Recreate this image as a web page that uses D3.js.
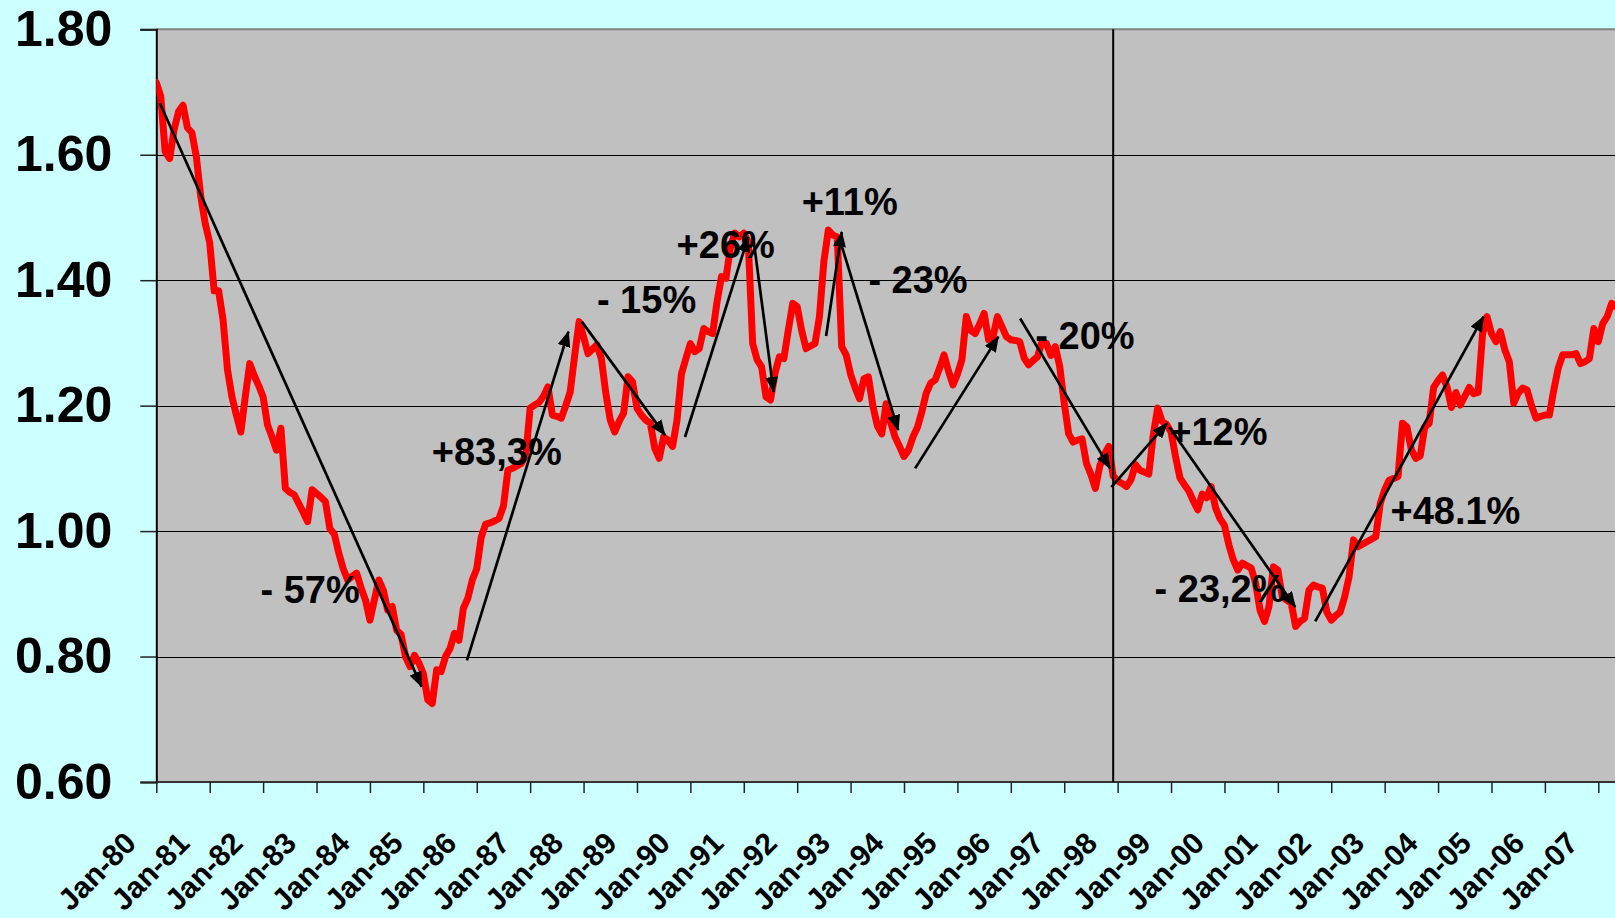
<!DOCTYPE html>
<html>
<head>
<meta charset="utf-8">
<script src="https://cdn.jsdelivr.net/npm/d3@7"></script>
<style>
  html, body { margin: 0; padding: 0; background: #CCFFFF; overflow: hidden; }
  svg { display: block; }
</style>
</head>
<body>
<svg id="chart" width="1615" height="918"></svg>
<script>
// ---- DATA (monthly, starting Jan-1980) ----
const rate = [
  1.715,1.693,1.605,1.594,1.640,1.669,1.679,1.643,1.635,1.597,1.533,1.490,
  1.460,1.383,1.383,1.337,1.257,1.214,1.185,1.158,1.215,1.267,1.248,1.232,
  1.214,1.169,1.150,1.129,1.164,1.068,1.062,1.058,1.044,1.030,1.015,1.066,
  1.060,1.054,1.047,1.004,0.995,0.965,0.940,0.922,0.928,0.933,0.910,0.890,
  0.858,0.890,0.922,0.906,0.874,0.880,0.842,0.835,0.800,0.784,0.802,0.790,
  0.773,0.731,0.725,0.779,0.776,0.800,0.813,0.837,0.826,0.877,0.893,0.922,
  0.940,0.990,1.011,1.013,1.016,1.020,1.040,1.097,1.100,1.104,1.108,1.120,
  1.196,1.201,1.205,1.215,1.230,1.185,1.183,1.180,1.200,1.222,1.280,1.334,
  1.310,1.283,1.290,1.297,1.275,1.220,1.177,1.158,1.175,1.188,1.246,1.238,
  1.196,1.185,1.177,1.172,1.132,1.116,1.150,1.145,1.135,1.177,1.251,1.275,
  1.299,1.286,1.291,1.323,1.318,1.315,1.366,1.406,1.403,1.453,1.475,1.469,
  1.475,1.461,1.299,1.273,1.262,1.214,1.209,1.251,1.278,1.275,1.320,1.363,
  1.358,1.320,1.291,1.295,1.299,1.342,1.430,1.480,1.472,1.469,1.294,1.281,
  1.250,1.229,1.211,1.243,1.246,1.200,1.168,1.155,1.203,1.173,1.150,1.135,
  1.119,1.129,1.150,1.165,1.190,1.220,1.236,1.241,1.260,1.281,1.255,1.233,
  1.250,1.273,1.342,1.320,1.315,1.330,1.347,1.305,1.310,1.342,1.326,1.310,
  1.305,1.304,1.302,1.276,1.265,1.272,1.278,1.302,1.299,1.280,1.294,1.262,
  1.204,1.155,1.142,1.145,1.147,1.108,1.090,1.068,1.104,1.122,1.135,1.088,
  1.080,1.076,1.071,1.082,1.106,1.097,1.094,1.091,1.153,1.196,1.175,1.170,
  1.158,1.119,1.085,1.074,1.064,1.048,1.034,1.059,1.053,1.071,1.037,1.020,
  1.009,0.978,0.954,0.938,0.949,0.945,0.941,0.917,0.874,0.856,0.880,0.943,
  0.938,0.895,0.890,0.885,0.848,0.856,0.861,0.906,0.914,0.911,0.909,0.871,
  0.858,0.865,0.871,0.895,0.927,0.986,0.975,0.979,0.983,0.987,0.991,1.044,
  1.066,1.081,1.084,1.087,1.172,1.166,1.130,1.116,1.120,1.166,1.172,1.229,
  1.240,1.249,1.230,1.197,1.221,1.201,1.215,1.229,1.219,1.221,1.315,1.342,
  1.315,1.302,1.318,1.289,1.270,1.204,1.220,1.228,1.225,1.200,1.180,1.183,
  1.185,1.185,1.225,1.260,1.281,1.281,1.281,1.283,1.267,1.270,1.275,1.323,
  1.302,1.331,1.342,1.363,1.358
];

const xLabels = ["Jan-80","Jan-81","Jan-82","Jan-83","Jan-84","Jan-85","Jan-86",
  "Jan-87","Jan-88","Jan-89","Jan-90","Jan-91","Jan-92","Jan-93","Jan-94",
  "Jan-95","Jan-96","Jan-97","Jan-98","Jan-99","Jan-00","Jan-01","Jan-02",
  "Jan-03","Jan-04","Jan-05","Jan-06","Jan-07"];

const yTicks = [0.60, 0.80, 1.00, 1.20, 1.40, 1.60, 1.80];

// vertical marker (month index)
const markerMonth = 215;

// arrows: [startMonth, startValue, endMonth, endValue]
const arrows = [
  [0.8, 1.682, 59.6, 0.752],
  [69.8, 0.794, 92.6, 1.318],
  [95.6, 1.334, 114.3, 1.153],
  [118.8, 1.150, 133.0, 1.469],
  [134.2, 1.464, 138.7, 1.222],
  [150.5, 1.311, 154.0, 1.477],
  [153.6, 1.464, 166.7, 1.161],
  [170.5, 1.100, 189.2, 1.310],
  [194.1, 1.339, 214.3, 1.100],
  [214.6, 1.070, 227.1, 1.172],
  [227.6, 1.166, 255.9, 0.879],
  [260.4, 0.856, 298.2, 1.342]
];

// annotation labels: [text, month, value (baseline)]
const notes = [
  ["- 57%", 23.4, 0.885],
  ["+83,3%", 61.9, 1.105],
  ["- 15%", 99.0, 1.347],
  ["+26%", 116.9, 1.435],
  ["+11%", 145.0, 1.504],
  ["- 23%", 160.0, 1.379],
  ["- 20%", 197.5, 1.291],
  ["+12%", 227.6, 1.137],
  ["- 23,2%", 224.3, 0.887],
  ["+48.1%", 277.3, 1.012]
];

// ---- CHART ----
const W = 1615, H = 918;
const plot = { left: 156.3, top: 29.3, right: 1615, bottom: 782 };
const svg = d3.select("#chart");
const FONT = "'Liberation Sans', Arial, Helvetica, sans-serif";

const x = d3.scaleLinear().domain([0, 324]).range([156.3, 1598.3]);
const y = d3.scaleLinear().domain([0.6, 1.8]).range([plot.bottom, plot.top]);

svg.append("rect").attr("width", W).attr("height", H).attr("fill", "#CCFFFF");

const defs = svg.append("defs");
defs.append("clipPath").attr("id", "clip")
  .append("rect").attr("x", plot.left).attr("y", plot.top - 5)
  .attr("width", plot.right - plot.left).attr("height", plot.bottom - plot.top + 5);

defs.append("marker")
  .attr("id", "arrow").attr("markerUnits", "userSpaceOnUse")
  .attr("viewBox", "0 0 16 13").attr("refX", 15).attr("refY", 6.5)
  .attr("markerWidth", 16).attr("markerHeight", 13)
  .attr("orient", "auto")
  .append("path").attr("d", "M0,0 L16,6.5 L0,13 Z").attr("fill", "#000");

// plot background
svg.append("rect")
  .attr("x", plot.left).attr("y", plot.top)
  .attr("width", plot.right - plot.left).attr("height", plot.bottom - plot.top)
  .attr("fill", "#C0C0C0");

// gridlines
svg.append("g").selectAll("line").data(yTicks.filter(d => d > 0.6 && d < 1.8)).join("line")
  .attr("x1", plot.left).attr("x2", plot.right)
  .attr("y1", d => Math.round(y(d)) + 0.5).attr("y2", d => Math.round(y(d)) + 0.5)
  .attr("stroke", "#000").attr("stroke-width", 1.2);

// top border
svg.append("line").attr("x1", plot.left).attr("x2", plot.right)
  .attr("y1", y(1.8)).attr("y2", y(1.8))
  .attr("stroke", "#808080").attr("stroke-width", 2);

// Y axis
const yAxis = d3.axisLeft(y).tickValues(yTicks).tickFormat(d3.format(".2f"))
  .tickSize(16).tickPadding(28);
const gy = svg.append("g").attr("transform", `translate(${plot.left},0)`).call(yAxis);
gy.select(".domain").attr("stroke", "#000").attr("stroke-width", 2);
gy.selectAll(".tick line").attr("stroke", "#222").attr("stroke-width", 1.5);
gy.selectAll(".tick text")
  .attr("font-family", FONT).attr("font-weight", "bold").attr("font-size", 50)
  .attr("fill", "#000");

// X axis
const xAxis = d3.axisBottom(x).tickValues(d3.range(xLabels.length).map(k => k * 12))
  .tickFormat((d, k) => xLabels[k]).tickSize(11).tickSizeOuter(0);
const gx = svg.append("g").attr("transform", `translate(0,${plot.bottom})`).call(xAxis);
gx.select(".domain").attr("stroke", "#333").attr("stroke-width", 2)
  .attr("d", `M${plot.left},0H${plot.right}`);
gx.selectAll(".tick line").attr("stroke", "#222").attr("stroke-width", 1.5);
gx.selectAll(".tick text")
  .attr("font-family", FONT).attr("font-weight", "bold").attr("font-size", 30)
  .attr("fill", "#000").attr("text-anchor", "end").attr("dy", null).attr("y", null)
  .attr("transform", "translate(-19,63) rotate(-45)");

// red series
const line = d3.line().x((d, i) => x(i)).y(d => y(d)).curve(d3.curveLinear);
svg.append("path").datum(rate)
  .attr("clip-path", "url(#clip)")
  .attr("d", line).attr("fill", "none")
  .attr("stroke", "#FF0000").attr("stroke-width", 7)
  .attr("stroke-linejoin", "round").attr("stroke-linecap", "round");

// vertical marker line
svg.append("line")
  .attr("x1", x(markerMonth)).attr("x2", x(markerMonth))
  .attr("y1", y(1.8)).attr("y2", y(0.6))
  .attr("stroke", "#000").attr("stroke-width", 2);

// arrows
svg.append("g").selectAll("line").data(arrows).join("line")
  .attr("x1", d => x(d[0])).attr("y1", d => y(d[1]))
  .attr("x2", d => x(d[2])).attr("y2", d => y(d[3]))
  .attr("stroke", "#000").attr("stroke-width", 2.7)
  .attr("marker-end", "url(#arrow)");

// labels
svg.append("g").selectAll("text").data(notes).join("text")
  .attr("x", d => x(d[1])).attr("y", d => y(d[2]))
  .attr("font-family", FONT).attr("font-weight", "bold").attr("font-size", 38)
  .attr("fill", "#000")
  .text(d => d[0]);
</script>
</body>
</html>
